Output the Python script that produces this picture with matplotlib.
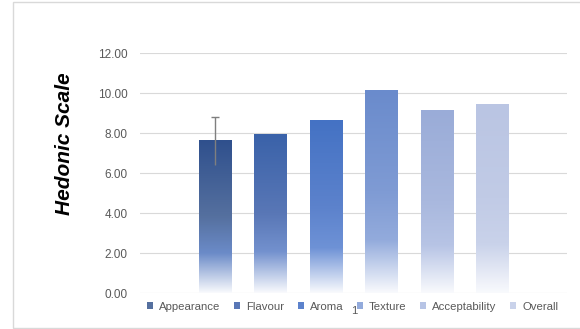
import numpy as np
import matplotlib
matplotlib.use('Agg')
import matplotlib.pyplot as plt
from matplotlib.colors import to_rgb
from matplotlib.patches import Patch, Rectangle

plt.rcParams['font.family'] = ['Liberation Sans', 'DejaVu Sans']

# Data
series = ['Appearance', 'Flavour', 'Aroma', 'Texture', 'Acceptability', 'Overall']
values = [7.6, 7.9, 8.6, 10.1, 9.1, 9.4]
errors = [1.2, 0, 0, 0, 0, 0]
category = ['1']
y_ticks = [0, 2, 4, 6, 8, 10, 12]

# Gradient stops for each bar (top, middle, lower, bottom)
top_cols = ['#2F508D', '#3A62A9', '#4472C4', '#6A8BCC', '#9AACD8', '#BAC5E3']
mid_cols = ['#55709F', '#5977B6', '#5C82CC', '#7F9BD4', '#A9B8DE', '#C1CBE6']
low_cols = ['#6B8BC8', '#7391CE', '#6E92D6', '#93ABDC', '#B7C4E5', '#C9D2EA']
stops = [0.0, 0.5, 0.74, 1.0]

text_col = '#595959'
grid_col = '#D9D9D9'


def gradient(i, n=256):
    cols = [to_rgb(top_cols[i]), to_rgb(mid_cols[i]), to_rgb(low_cols[i]), to_rgb('#F9FAFD')]
    t = np.linspace(0, 1, n)
    rgb = np.stack([np.interp(t, stops, [c[k] for c in cols]) for k in range(3)], axis=-1)
    return rgb[:, None, :]


fig = plt.figure(figsize=(5.8, 3.29), dpi=100)
ax = fig.add_axes([0.2414, 0.1094, 0.9776 - 0.2414, 0.8389 - 0.1094])

x = np.arange(len(series))
bars = ax.bar(x, values, width=0.59, color='none', zorder=2)
for i, rect in enumerate(bars):
    x0 = rect.get_x()
    ax.imshow(gradient(i), extent=[x0, x0 + rect.get_width(), 0, rect.get_height()],
              aspect='auto', origin='upper', zorder=2, interpolation='bilinear')

# error bar (upper cap only, as in the original)
for i in range(len(series)):
    if errors[i] > 0:
        ax.vlines(x[i], values[i] - errors[i], values[i] + errors[i], color='#7F7F7F', lw=1, zorder=3)
        ax.hlines(values[i] + errors[i], x[i] - 0.07, x[i] + 0.07, color='#7F7F7F', lw=1, zorder=3)

ax.set_xlim(-1.357, 6.34)
ax.set_ylim(0, 12)
ax.set_yticks(y_ticks)
ax.set_yticklabels([f'{v:.2f}' for v in y_ticks], fontsize=8.5, color=text_col)
ax.set_xticks([(len(series) - 1) / 2])
ax.set_xticklabels(category, fontsize=8, color=text_col)
ax.tick_params(axis='both', length=0)
ax.tick_params(axis='y', pad=9)
ax.tick_params(axis='x', pad=9)
ax.grid(axis='y', color=grid_col, lw=0.8, zorder=0)
ax.set_axisbelow(True)
for s in ['top', 'right', 'left', 'bottom']:
    ax.spines[s].set_visible(False)

fig.text(0.112, 0.562, 'Hedonic Scale', rotation=90, fontsize=15, fontweight='bold',
         fontstyle='italic', ha='center', va='center', color='black')

handles = [Patch(facecolor=low_cols[i] if i > 2 else mid_cols[i], edgecolor='none') for i in range(len(series))]
fig.legend(handles, series, loc='center', bbox_to_anchor=(0.608, 0.067), ncol=6, frameon=False,
           fontsize=8.2, labelcolor=text_col, handlelength=0.55, handleheight=0.55,
           handletextpad=0.5, columnspacing=1.2, borderaxespad=0)

# outer chart frame (right edge lies outside the picture)
fig.patches.append(Rectangle((13 / 580, 1 / 329), 1.1, 326 / 329, transform=fig.transFigure,
                             fill=False, edgecolor=grid_col, lw=1))

fig.savefig('out.png', dpi=100)
